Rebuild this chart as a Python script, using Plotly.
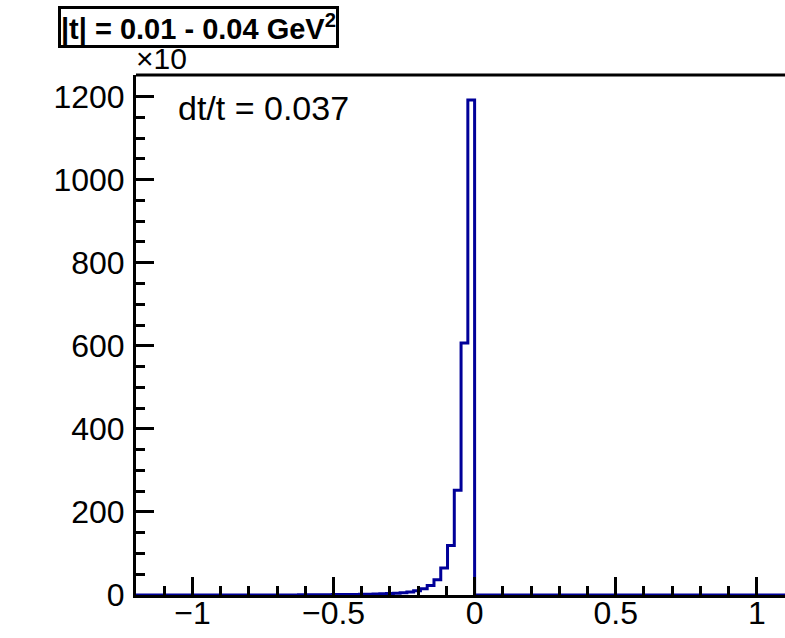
import plotly.graph_objects as go

# Histogram definition (ROOT-style TH1): 100 bins from -1.2 to 1.2, contents in units of 10
x_min = -1.2
x_max = 1.2
n_bins = 100

# Nonzero bin contents (bin index -> value); all other bins are zero
bin_index = [20, 21, 22, 23, 24, 25, 26, 27, 28, 29, 30, 31, 32, 33, 34, 35, 36, 37, 38, 39, 40, 41, 42, 43, 44, 45, 46, 47, 48, 49]
bin_value = [0.2, 0.2, 0.3, 0.3, 0.4, 0.5, 0.5, 0.6, 0.8, 1.0, 1.0, 1.2, 1.4, 1.6, 2.0, 2.3, 2.8, 3.5, 4.5, 5.5, 7.0, 10, 15, 23, 37, 65, 119, 252, 607, 1192]

y_max = 1252
x_view_max = 1.1  # frame extends past the right edge of the picture

bin_w = (x_max - x_min) / n_bins
contents = [0.0] * n_bins
for i, v in zip(bin_index, bin_value):
    contents[i] = v
edges = [x_min + k * bin_w for k in range(n_bins + 1)]
ys = contents + [contents[-1]]

FONT = "Liberation Sans, Arial, Helvetica, sans-serif"

fig = go.Figure()
fig.add_trace(go.Scatter(
    x=edges, y=ys, mode="lines", line=dict(shape="hv", color="#000099", width=3),
    hoverinfo="skip", showlegend=False,
))

fig.update_layout(
    width=785, height=638,
    margin=dict(l=136, r=0, t=75, b=43, autoexpand=False),
    paper_bgcolor="white", plot_bgcolor="white",
    font=dict(family=FONT, size=32, color="black"),
    showlegend=False,
    xaxis=dict(
        range=[x_min, x_view_max], tickmode="linear", tick0=0, dtick=0.5,
        ticks="inside", ticklen=18, tickwidth=3, tickcolor="black",
        minor=dict(ticks="inside", ticklen=9, tickwidth=3, tickcolor="black", dtick=0.1, tick0=0),
        showline=True, linewidth=3, linecolor="black", mirror=False,
        showgrid=False, zeroline=False, automargin=False,
        tickfont=dict(family=FONT, size=32, color="black"),
        ticklabelstandoff=-12,
    ),
    yaxis=dict(
        range=[0, y_max], tickmode="linear", tick0=0, dtick=200,
        ticks="inside", ticklen=18, tickwidth=3, tickcolor="black",
        minor=dict(ticks="inside", ticklen=9, tickwidth=3, tickcolor="black", dtick=50, tick0=0),
        showline=True, linewidth=3, linecolor="black", mirror=False,
        showgrid=False, zeroline=False, automargin=False,
        tickfont=dict(family=FONT, size=32, color="black"),
        ticklabelstandoff=2,
    ),
    shapes=[dict(type="line", xref="paper", yref="paper", x0=0, x1=1, y0=1, y1=1,
                 line=dict(color="black", width=3))],
    annotations=[
        dict(text="|t| = 0.01 - 0.04 GeV<sup>2</sup>", xref="paper", yref="paper",
             x=-0.1202, y=1, xanchor="left", yanchor="bottom", yshift=27, showarrow=False,
             font=dict(family=FONT, size=29, color="black", weight="bold"),
             bordercolor="black", borderwidth=3, borderpad=0, bgcolor="white"),
        dict(text="×10", xref="paper", yref="paper", x=0, y=1, xanchor="left", yanchor="bottom",
             xshift=-2, yshift=-2, showarrow=False, font=dict(family=FONT, size=30, color="black")),
        dict(text="dt/t = 0.037", xref="paper", yref="paper", x=0.062, y=0.936,
             xanchor="left", yanchor="middle", showarrow=False,
             font=dict(family=FONT, size=34, color="black")),
    ],
)

fig.write_html(
    "out.html",
    config={"displayModeBar": False},
    post_script="document.body.style.margin='0';document.body.style.overflow='hidden';",
)
